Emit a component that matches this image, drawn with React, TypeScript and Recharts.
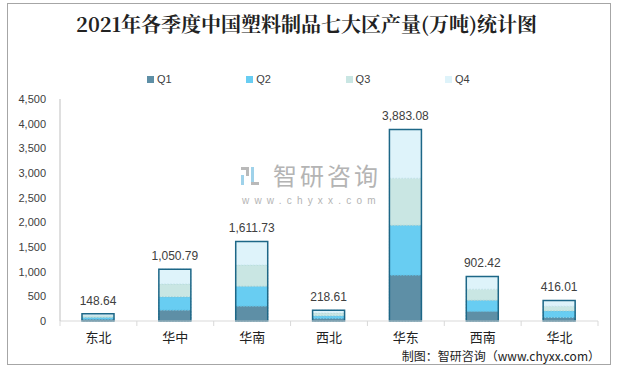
import { BarChart, Bar, XAxis, YAxis, LabelList } from "recharts"

const regions = ["东北", "华中", "华南", "西北", "华东", "西南", "华北"]
const q1 = [35, 220, 300, 50, 925, 195, 70]
const q2 = [40, 270, 405, 55, 1015, 225, 135]
const q3 = [35, 260, 430, 55, 955, 225, 95]
const q4 = [38.64, 300.79, 476.73, 58.61, 988.08, 257.42, 116.01]
const totals = [148.64, 1050.79, 1611.73, 218.61, 3883.08, 902.42, 416.01]
const yTicks = [0, 500, 1000, 1500, 2000, 2500, 3000, 3500, 4000, 4500]

const quarters = [
  { key: "Q1", fill: "#5e8fa6", stroke: "#416f86" },
  { key: "Q2", fill: "#68cdf2", stroke: "#4fb2d8" },
  { key: "Q3", fill: "#c9e6e3", stroke: "#a9cfcc" },
  { key: "Q4", fill: "#def3fa", stroke: "#c2e2ee" },
]

const data = regions.map((region, i) => ({
  region,
  Q1: q1[i],
  Q2: q2[i],
  Q3: q3[i],
  Q4: q4[i],
  total: totals[i],
}))

const W = 622
const H = 369
const margin = { top: 99, right: 24, bottom: 18, left: 0 }
const yAxisW = 60
const halfBand = (W - margin.left - margin.right - yAxisW) / regions.length / 2

const fmt = (v: number) => v.toLocaleString("en-US")
const fmt2 = (v: number) =>
  v.toLocaleString("en-US", { minimumFractionDigits: 2, maximumFractionDigits: 2 })

const sans = "'Liberation Sans', Arial, 'Noto Sans CJK SC', sans-serif"
const cjk = "'Noto Sans CJK SC', sans-serif"

function RegionTick(props: any) {
  const { x, y, payload, index } = props
  return (
    <g>
      <line x1={x - halfBand} x2={x - halfBand} y1={y - 8} y2={y - 3} stroke="#d9d9d9" />
      {index === regions.length - 1 && (
        <line x1={x + halfBand} x2={x + halfBand} y1={y - 8} y2={y - 3} stroke="#d9d9d9" />
      )}
      <text x={x} y={y + 13} textAnchor="middle" fontSize={13} fill="#222" fontFamily={cjk}>
        {payload.value}
      </text>
    </g>
  )
}

export default function App() {
  return (
    <div style={{ position: "absolute", left: 0, top: 0, width: W, height: H, background: "#fff" }}>
      <div
        style={{
          position: "absolute", left: 7, top: 3, width: 604, height: 362,
          border: "1px solid #a6a6a6", boxSizing: "border-box",
        }}
      />
      <div
        style={{
          position: "absolute", left: 0, width: 613, top: 11, textAlign: "center",
          fontSize: 20, fontWeight: "bold", color: "#222", fontFamily: "'Noto Serif CJK SC', " + cjk,
          lineHeight: "26px",
        }}
      >
        2021年各季度中国塑料制品七大区产量(万吨)统计图
      </div>

      {/* 水印 */}
      <div style={{ position: "absolute", left: 241, top: 162, color: "#b4b4b4", fontFamily: cjk }}>
        <svg width={18} height={18} style={{ position: "absolute", left: 0, top: 5 }}>
          <rect x={0} y={0} width={8} height={3} fill="#b9b9b9" />
          <rect x={5} y={0} width={3} height={9} fill="#b9b9b9" />
          <rect x={0} y={8} width={3} height={10} fill="#9fd2ea" />
          <rect x={10} y={0} width={3} height={18} fill="#9fd2ea" />
          <rect x={10} y={15} width={8} height={3} fill="#b9b9b9" />
        </svg>
        <div style={{ position: "absolute", left: 32, top: 1, fontSize: 24, letterSpacing: 3, whiteSpace: "nowrap", lineHeight: "24px" }}>
          智研咨询
        </div>
        <div style={{ position: "absolute", left: 1, top: 34, fontSize: 10, letterSpacing: 5.2, whiteSpace: "nowrap", fontFamily: sans, lineHeight: "10px" }}>
          www.chyxx.com
        </div>
      </div>

      {/* 图例 */}
      <div style={{ position: "absolute", left: 147, top: 73, display: "flex", fontFamily: sans, fontSize: 11, color: "#404040" }}>
        {quarters.map((q) => (
          <div key={q.key} style={{ width: 99.3, display: "flex", alignItems: "center" }}>
            <span style={{ width: 7, height: 7, background: q.fill, marginRight: 3 }} />
            <span>{q.key}</span>
          </div>
        ))}
      </div>

      <div style={{ position: "absolute", left: 0, top: 0 }}>
        <BarChart width={W} height={H} data={data} margin={margin}>
          <XAxis
            dataKey="region"
            height={30}
            axisLine={{ stroke: "#d9d9d9" }}
            tickLine={false}
            tick={<RegionTick />}
            interval={0}
          />
          <XAxis xAxisId="outline" dataKey="region" hide />
          <YAxis
            width={yAxisW}
            domain={[0, 4500]}
            ticks={yTicks}
            tickFormatter={fmt}
            axisLine={{ stroke: "#bfbfbf" }}
            tickLine={false}
            tickMargin={8}
            tick={{ fontSize: 11, fill: "#404040", fontFamily: sans }}
            interval={0}
          />
          {quarters.map((q) => (
            <Bar
              key={q.key}
              dataKey={q.key}
              stackId="a"
              fill={q.fill}
              stroke={q.stroke}
              strokeWidth={0.8}
              strokeDasharray="1.5 1.5"
              barSize={32}
              isAnimationActive={false}
            />
          ))}
          <Bar
            dataKey="total"
            xAxisId="outline"
            fill="none"
            stroke="#1d6787"
            strokeWidth={1.5}
            barSize={32}
            isAnimationActive={false}
          >
            <LabelList
              dataKey="total"
              position="top"
              offset={9}
              formatter={(v: any) => fmt2(Number(v))}
              style={{ fontSize: 12, fill: "#404040", fontFamily: sans }}
            />
          </Bar>
        </BarChart>
      </div>

      <div
        style={{
          position: "absolute", right: 22, top: 349, fontSize: 12, color: "#222",
          fontFamily: cjk, whiteSpace: "nowrap", lineHeight: "14px",
        }}
      >
        制图：智研咨询（www.chyxx.com）
      </div>
    </div>
  )
}
